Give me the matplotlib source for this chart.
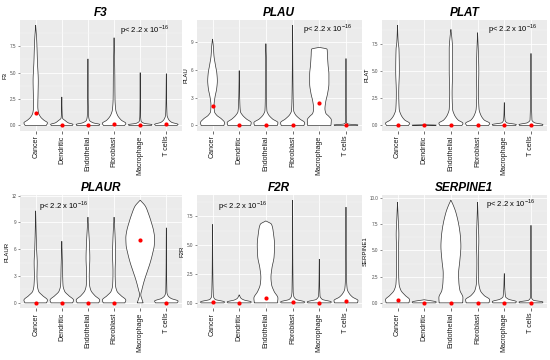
import numpy as np
import matplotlib
matplotlib.use("Agg")
import matplotlib.pyplot as plt
from matplotlib.ticker import MultipleLocator, FormatStrFormatter

plt.rcParams['font.family'] = ['Liberation Sans', 'DejaVu Sans']

cells = ["Cancer", "Dendritic", "Endothelial", "Fibroblast", "Macrophage", "T cells"]
genes = ["F3", "PLAU", "PLAT", "PLAUR", "F2R", "SERPINE1"]
pval_text = r"p< 2.2 x 10$^{\mathregular{-16}}$"

# violin profiles: (expression level, relative half-width) knots for each cell type
F3_violins = [
    [(0, 0.9), (0.25, 1), (0.5, 0.7), (0.8, 0.42), (1.2, 0.24), (1.8, 0.18), (3, 0.2), (4.2, 0.22), (6, 0.15), (8, 0.09), (9.5, 0)],
    [(0, 0.9), (0.1, 0.95), (0.25, 0.55), (0.45, 0.3), (0.7, 0.06), (1.2, 0.03), (2.7, 0)],
    [(0, 0.95), (0.1, 1), (0.25, 0.45), (0.5, 0.12), (1, 0.05), (6.3, 0)],
    [(0, 0.9), (0.2, 1), (0.5, 0.62), (1, 0.28), (1.5, 0.14), (2.5, 0.08), (5, 0.06), (8.3, 0)],
    [(0, 0.95), (0.08, 1), (0.2, 0.35), (0.4, 0.08), (1, 0.03), (5.0, 0)],
    [(0, 0.9), (0.1, 1), (0.3, 0.45), (0.6, 0.18), (1, 0.06), (4.9, 0)],
]
F3_means = [1.2, 0.08, 0.0, 0.1, 0.0, 0.1]

PLAU_violins = [
    [(0, 0.95), (0.3, 1), (0.7, 0.75), (1.1, 0.35), (1.5, 0.16), (2.2, 0.13), (3, 0.2), (4, 0.35), (4.8, 0.4), (5.6, 0.36), (6.5, 0.24), (7.5, 0.12), (8.5, 0.07), (9.3, 0)],
    [(0, 0.95), (0.3, 1), (0.7, 0.6), (1.1, 0.28), (1.5, 0.1), (2.5, 0.05), (5.9, 0)],
    [(0, 0.95), (0.3, 1), (0.7, 0.55), (1.2, 0.2), (1.6, 0.08), (3, 0.05), (7, 0.04), (8.8, 0)],
    [(0, 0.95), (0.3, 1), (0.7, 0.6), (1.2, 0.22), (1.6, 0.09), (3, 0.05), (10.8, 0)],
    [(0, 0.97), (0.6, 1), (1.0, 0.78), (1.3, 0.55), (1.8, 0.47), (2.5, 0.53), (3.5, 0.7), (4.5, 0.8), (5.5, 0.8), (6.5, 0.73), (7.5, 0.68), (8.2, 0.65), (8.4, 0)],
    [(0, 0.95), (0.06, 1), (0.15, 0.2), (0.3, 0.04), (7.2, 0)],
]
PLAU_means = [2.1, 0.0, 0.0, 0.0, 2.4, 0.05]

PLAT_violins = [
    [(0, 0.92), (0.2, 1), (0.5, 0.6), (1, 0.28), (1.5, 0.14), (3, 0.1), (5, 0.15), (7, 0.12), (7.6, 0.06), (9.2, 0)],
    [(0, 0.95), (0.03, 1), (0.07, 0)],
    [(0, 0.92), (0.2, 1), (0.5, 0.6), (1, 0.28), (1.5, 0.14), (3, 0.1), (5, 0.14), (7, 0.14), (8, 0.08), (8.8, 0)],
    [(0, 0.92), (0.2, 1), (0.5, 0.55), (1, 0.25), (1.5, 0.12), (3, 0.07), (5, 0.1), (6.5, 0.07), (8.5, 0)],
    [(0, 0.95), (0.08, 1), (0.25, 0.2), (0.5, 0.06), (2.1, 0)],
    [(0, 0.95), (0.08, 1), (0.25, 0.3), (0.5, 0.08), (6.6, 0)],
]
PLAT_means = [0.0, 0.0, 0.0, 0.0, 0.0, 0.0]

PLAUR_violins = [
    [(0, 0.92), (0.3, 1), (0.8, 0.6), (1.3, 0.25), (2, 0.14), (3, 0.11), (4.5, 0.13), (6, 0.08), (10.3, 0)],
    [(0, 0.92), (0.3, 1), (0.8, 0.6), (1.3, 0.24), (2, 0.1), (4, 0.06), (6.9, 0)],
    [(0, 0.92), (0.3, 1), (0.8, 0.6), (1.4, 0.25), (2, 0.14), (3, 0.11), (5, 0.16), (6.5, 0.13), (8, 0.07), (9.6, 0)],
    [(0, 0.92), (0.3, 1), (0.8, 0.6), (1.3, 0.25), (2, 0.12), (3.5, 0.09), (5.5, 0.13), (7, 0.1), (8.5, 0.05), (9.6, 0)],
    [(0, 0.25), (0.4, 0.15), (0.9, 0.05), (1.5, 0.15), (2.5, 0.35), (3.5, 0.6), (4.5, 0.85), (5.5, 1.05), (6.5, 1.2), (7.3, 1.22), (8, 1.15), (9, 0.95), (10, 0.7), (10.8, 0.45), (11.5, 0)],
    [(0, 0.92), (0.2, 1), (0.5, 0.4), (0.8, 0.14), (1.2, 0.05), (8.4, 0)],
]
PLAUR_means = [0.0, 0.0, 0.0, 0.0, 7.0, 0.0]

F2R_violins = [
    [(0, 0.95), (0.08, 1), (0.3, 0.22), (0.6, 0.07), (6.8, 0)],
    [(0, 0.95), (0.08, 1), (0.25, 0.4), (0.4, 0.15), (0.7, 0)],
    [(0, 0.96), (0.4, 1), (1.0, 0.68), (1.6, 0.47), (2.2, 0.42), (3, 0.5), (4, 0.68), (5, 0.72), (6, 0.63), (6.8, 0.47), (7.1, 0)],
    [(0, 0.95), (0.08, 1), (0.3, 0.28), (0.6, 0.09), (1, 0.05), (8.9, 0)],
    [(0, 0.95), (0.08, 1), (0.3, 0.25), (0.6, 0.06), (3.8, 0)],
    [(0, 0.95), (0.2, 1), (0.5, 0.55), (0.8, 0.28), (1.2, 0.1), (2, 0.05), (8.3, 0)],
]
F2R_means = [0.05, 0.03, 0.42, 0.06, 0.0, 0.2]

SERPINE1_violins = [
    [(0, 0.95), (0.3, 1), (0.7, 0.65), (1.2, 0.28), (1.8, 0.13), (3, 0.09), (5, 0.08), (6.5, 0.11), (8, 0.06), (9.6, 0)],
    [(0, 0.95), (0.08, 1), (0.3, 0)],
    [(0, 0.98), (0.5, 1), (1.2, 0.75), (2, 0.66), (2.8, 0.64), (4, 0.74), (5.4, 0.83), (6.2, 0.8), (7, 0.72), (8.6, 0.42), (9.3, 0.2), (9.8, 0)],
    [(0, 0.95), (0.3, 1), (0.7, 0.55), (1.2, 0.22), (2, 0.09), (4, 0.06), (6, 0.1), (7.5, 0.06), (9.6, 0)],
    [(0, 0.95), (0.12, 1), (0.35, 0.35), (0.6, 0.1), (2.8, 0)],
    [(0, 0.95), (0.08, 1), (0.25, 0.2), (0.5, 0.05), (7.4, 0)],
]
SERPINE1_means = [0.25, 0.0, 0.0, 0.0, 0.0, 0.0]

y_tick_steps = [2.5, 3, 2.5, 3, 2.5, 2.5]
pval_pos = [(0.77, 0.91), (0.79, 0.92), (0.79, 0.92), (0.27, 0.90), (0.28, 0.90), (0.78, 0.92)]

all_violins = [F3_violins, PLAU_violins, PLAT_violins, PLAUR_violins, F2R_violins, SERPINE1_violins]
all_means = [F3_means, PLAU_means, PLAT_means, PLAUR_means, F2R_means, SERPINE1_means]


def pchip(x, y, xn):
    """Monotone cubic Hermite curve through the knots (outline smoothing)."""
    h = np.diff(x)
    d = np.diff(y) / h
    m = np.zeros_like(y)
    for i in range(1, len(y) - 1):
        if d[i - 1] * d[i] > 0:
            w1 = 2 * h[i] + h[i - 1]
            w2 = h[i] + 2 * h[i - 1]
            m[i] = (w1 + w2) / (w1 / d[i - 1] + w2 / d[i])
    m[0] = d[0]
    m[-1] = d[-1]
    out = np.empty_like(xn)
    idx = np.clip(np.searchsorted(x, xn) - 1, 0, len(x) - 2)
    for j, xv in enumerate(xn):
        i = idx[j]
        t = (xv - x[i]) / h[i]
        h00 = 2 * t**3 - 3 * t**2 + 1
        h10 = t**3 - 2 * t**2 + t
        h01 = -2 * t**3 + 3 * t**2
        h11 = t**3 - t**2
        out[j] = h00 * y[i] + h10 * h[i] * m[i] + h01 * y[i + 1] + h11 * h[i] * m[i + 1]
    return np.clip(out, 0, None)


fig = plt.figure(figsize=(5.5, 3.6), dpi=100)
W, H = 550.0, 360.0
panel_px = [(20, 20, 182, 130.5), (196.5, 20, 362, 130.5), (381.5, 20, 547, 130.5),
            (20, 195, 182, 308), (196.5, 195, 362, 308), (381.5, 195, 547, 308)]

for k, gene in enumerate(genes):
    l, t, r, b = panel_px[k]
    ax = fig.add_axes([l / W, 1 - b / H, (r - l) / W, (b - t) / H])
    ax.set_facecolor("#EBEBEB")
    for s in ax.spines.values():
        s.set_visible(False)
    violins = all_violins[k]
    means = all_means[k]
    ymax = max(v[-1][0] for v in violins)
    ymin = 0.0
    rng = ymax - ymin
    ax.set_ylim(ymin - 0.05 * rng, ymax + 0.05 * rng)
    ax.set_xlim(0.4, len(cells) + 0.6)
    step = y_tick_steps[k]
    ax.yaxis.set_major_locator(MultipleLocator(step))
    ax.yaxis.set_minor_locator(MultipleLocator(step / 2))
    ax.set_xticks(np.arange(1, len(cells) + 1))
    ax.set_xticklabels(cells, rotation=90, fontsize=5.1, color="#1A1A1A")
    ax.grid(which="major", color="white", linewidth=0.6)
    ax.grid(which="minor", axis="y", color="#F5F5F5", linewidth=0.35)
    ax.set_axisbelow(True)
    ax.tick_params(axis="x", length=2, width=0.5, color="#333333", pad=1.5)
    ax.tick_params(axis="y", which="major", length=1.5, width=0.4, color="#333333",
                   labelsize=3.3, labelcolor="#4D4D4D", pad=1)
    ax.tick_params(axis="y", which="minor", length=0)
    ax.yaxis.set_major_formatter(FormatStrFormatter("%.1f" if step == 2.5 else "%d"))
    ax.set_ylabel(gene, fontsize=4.3, labelpad=1.5)

    for i, knots in enumerate(violins):
        ys = np.array([p[0] for p in knots], dtype=float)
        ws = np.array([p[1] for p in knots], dtype=float)
        yd = np.linspace(ys[0], ys[-1], 300)
        wd = pchip(ys, ws, yd) * 0.45
        x0 = i + 1
        xs = np.concatenate([x0 - wd, (x0 + wd)[::-1]])
        yy = np.concatenate([yd, yd[::-1]])
        ax.fill(xs, yy, facecolor="white", edgecolor="#333333", linewidth=0.5, zorder=2)
    ax.plot(np.arange(1, len(cells) + 1), means, "o", color="red", markersize=3.0,
            markeredgewidth=0, zorder=3)

    ax.text(pval_pos[k][0], pval_pos[k][1], pval_text, transform=ax.transAxes,
            ha="center", va="center", fontsize=5.5, color="black")
    ax.set_title(gene, fontsize=8.5, fontweight="bold", fontstyle="italic", pad=3)

fig.savefig("out.png", dpi=100)
